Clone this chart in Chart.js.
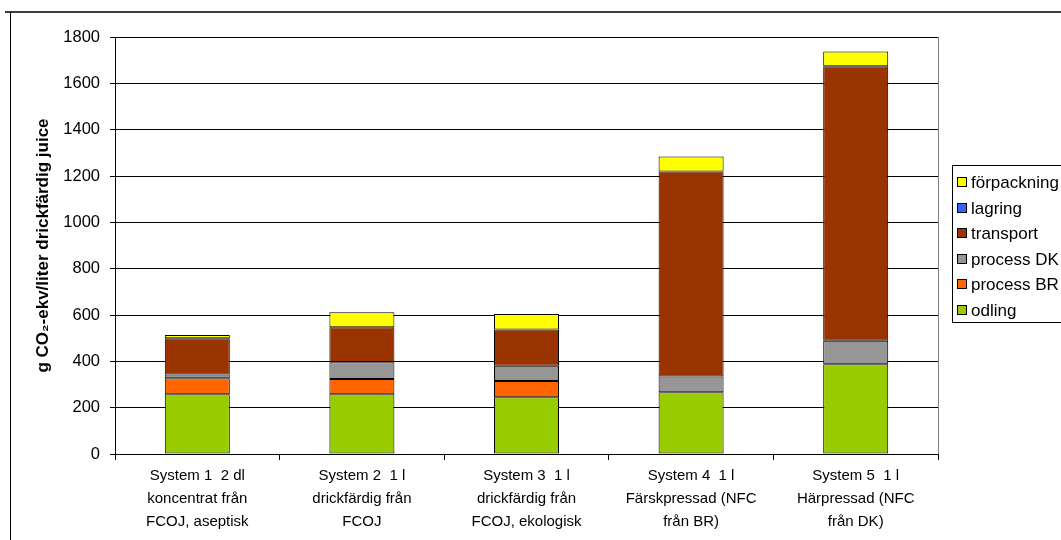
<!DOCTYPE html>
<html lang="sv">
<head>
<meta charset="utf-8">
<script src="https://cdn.jsdelivr.net/npm/chart.js@4.4.1/dist/chart.umd.min.js"></script>
<style>
  html, body { margin: 0; padding: 0; background: #fff; }
  #wrap { width: 1061px; height: 540px; position: relative; }
</style>
</head>
<body>
<div id="wrap"><canvas id="c" width="1061" height="540"></canvas></div>
<script>
// Systems compared (x-axis categories, one array entry per line)
const categories = [
  ['System 1  2 dl', 'koncentrat från', 'FCOJ, aseptisk'],
  ['System 2  1 l', 'drickfärdig från', 'FCOJ'],
  ['System 3  1 l', 'drickfärdig från', 'FCOJ, ekologisk'],
  ['System 4  1 l', 'Färskpressad (NFC', 'från BR)'],
  ['System 5  1 l', 'Härpressad (NFC', 'från DK)']
];

// g CO2-ekv per liter, by life-cycle stage
const odling      = [258, 258, 245, 267, 387];
const processBR   = [69, 66, 70, 0, 0];
const processDK   = [16, 72, 66, 67, 102];
const transport   = [157, 151, 156, 885, 1185];
const lagring     = [0, 0, 0, 0, 0];
const forpackning = [14, 65, 67, 65, 63];

const yTicks = [0, 200, 400, 600, 800, 1000, 1200, 1400, 1600, 1800];

const FONT = 'Arial, "Liberation Sans", sans-serif';

function ds(label, data, color) {
  return {
    label, data,
    backgroundColor: color,
    borderColor: '#000',
    borderWidth: 1,
    borderSkipped: false,
    categoryPercentage: 1,
    barPercentage: 0.395
  };
}

const datasets = [
  ds('odling', odling, '#99CC00'),
  ds('process BR', processBR, '#FF6600'),
  ds('process DK', processDK, '#969696'),
  ds('transport', transport, '#993300'),
  ds('lagring', lagring, '#3366FF'),
  ds('förpackning', forpackning, '#FFFF00')
];

// white page, outer frame and plot-area right edge
const framePlugin = {
  id: 'frame',
  beforeDraw(chart) {
    const ctx = chart.ctx;
    ctx.save();
    ctx.fillStyle = '#fff';
    ctx.fillRect(0, 0, chart.width, chart.height);
    ctx.strokeStyle = '#3c3c3c';
    ctx.lineWidth = 2;
    ctx.beginPath();
    ctx.moveTo(5, 12);
    ctx.lineTo(chart.width, 12);
    ctx.stroke();
    ctx.strokeStyle = '#000';
    ctx.lineWidth = 1;
    ctx.beginPath();
    ctx.moveTo(10.5, 12);
    ctx.lineTo(10.5, chart.height);
    ctx.stroke();
    ctx.restore();
  },
  afterDraw(chart) {
    const ctx = chart.ctx;
    const a = chart.chartArea;
    ctx.save();
    ctx.strokeStyle = '#808080';
    ctx.lineWidth = 1;
    ctx.beginPath();
    ctx.moveTo(Math.round(a.right) + 0.5, a.top);
    ctx.lineTo(Math.round(a.right) + 0.5, a.bottom);
    ctx.stroke();
    ctx.restore();
  }
};

// boxed legend, top entry = top of stack
const legendPlugin = {
  id: 'boxLegend',
  afterDraw(chart) {
    const ctx = chart.ctx;
    const x0 = 952, y0 = 165, h = 157, step = 25.5, first = 182;
    ctx.save();
    ctx.strokeStyle = '#000';
    ctx.lineWidth = 1;
    ctx.strokeRect(x0 + 0.5, y0 + 0.5, 200, h);
    ctx.font = '17px ' + FONT;
    ctx.textBaseline = 'middle';
    ctx.fillStyle = '#000';
    const items = chart.data.datasets.slice().reverse();
    items.forEach((d, i) => {
      const cy = Math.round(first + i * step);
      ctx.fillStyle = d.backgroundColor;
      ctx.fillRect(957, cy - 5, 10, 10);
      ctx.strokeStyle = '#000';
      ctx.strokeRect(957.5, cy - 4.5, 9, 9);
      ctx.fillStyle = '#000';
      ctx.fillText(d.label, 971, cy + 1);
    });
    ctx.restore();
  }
};

new Chart(document.getElementById('c'), {
  type: 'bar',
  data: { labels: categories, datasets },
  options: {
    responsive: false,
    animation: false,
    layout: { padding: { top: 37, right: 123, left: 0, bottom: 0 } },
    plugins: { legend: { display: false }, tooltip: { enabled: false } },
    scales: {
      x: {
        stacked: true,
        offset: true,
        grid: {
          display: true, drawOnChartArea: false, drawTicks: true,
          tickLength: 6, color: '#000', offset: true
        },
        border: { color: '#000', width: 1 },
        ticks: {
          color: '#000', padding: 4, maxRotation: 0, autoSkip: false,
          font: { family: FONT, size: 15, lineHeight: 1.53 }
        },
        afterFit(s) { s.height = 86; }
      },
      y: {
        stacked: true,
        min: 0, max: 1800,
        afterBuildTicks(s) { s.ticks = yTicks.map(v => ({ value: v })); },
        grid: { color: '#000', tickLength: 5, drawTicks: true },
        border: { color: '#000', width: 1 },
        ticks: {
          color: '#000', padding: 10,
          font: { family: FONT, size: 16.5 },
          callback: v => String(v)
        },
        title: {
          display: true,
          text: 'g CO₂-ekv/liter drickfärdig juice',
          color: '#000',
          font: { family: FONT, size: 17, weight: 'bold' },
          padding: { top: 33, bottom: 0 }
        },
        afterFit(s) { s.width = 115; }
      }
    }
  },
  plugins: [framePlugin, legendPlugin]
});
</script>
</body>
</html>
